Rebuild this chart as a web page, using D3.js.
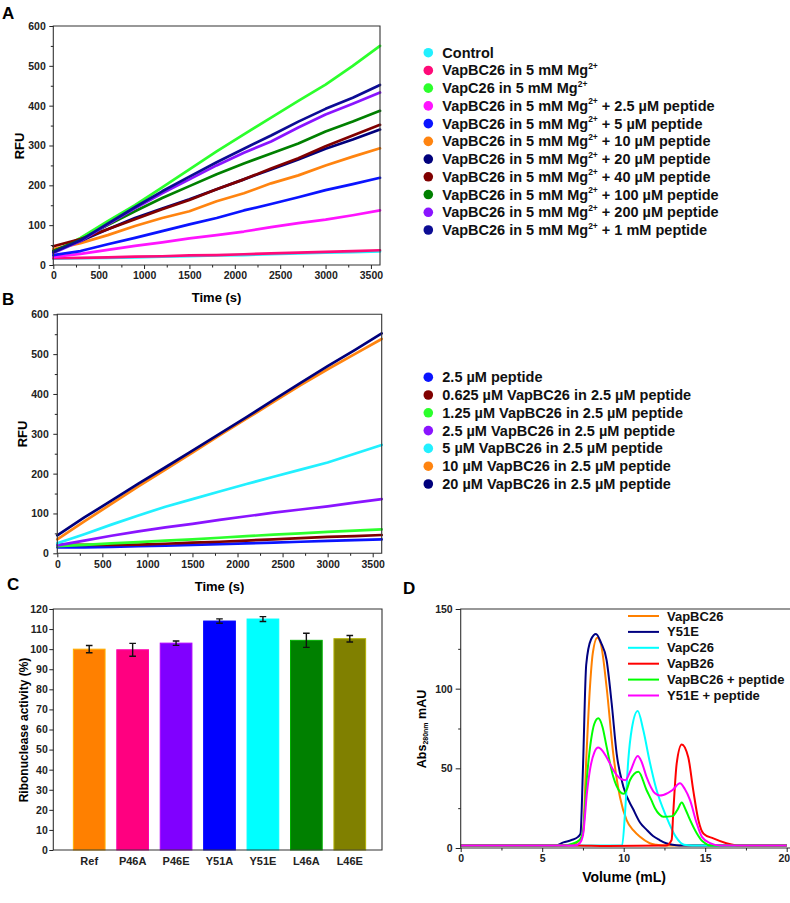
<!DOCTYPE html>
<html>
<head>
<meta charset="utf-8">
<script src="https://cdnjs.cloudflare.com/ajax/libs/d3/7.8.5/d3.min.js"></script>
<style>
body { margin: 0; background: #fff; }
svg { display: block; font-family: "Liberation Sans", Arial, sans-serif; font-weight: bold; }
</style>
</head>
<body>
<svg id="fig" width="790" height="903"></svg>
<script>
// sampling times of the kinetics traces (s)
const times = [0, 300, 600, 900, 1200, 1500, 1800, 2100, 2400, 2700, 3000, 3300, 3600];

// Panel A - RFU values at each time
const aControl = [16, 17, 18, 19, 21, 22, 24, 25, 27, 29, 31, 32, 34];
const aVapBC26 = [17, 18, 19, 21, 22, 24, 25, 27, 29, 31, 33, 35, 37];
const aVapC26 = [32, 68, 110, 150, 195, 240, 285, 328, 370, 412, 453, 500, 550];
const aPep2_5 = [20, 28, 38, 48, 57, 67, 75, 84, 95, 105, 114, 125, 137];
const aPep5 = [25, 35, 52, 68, 85, 102, 118, 137, 153, 170, 188, 203, 219];
const aPep10 = [40, 55, 75, 98, 118, 135, 160, 180, 205, 225, 250, 272, 293];
const aPep20 = [35, 60, 90, 118, 142, 165, 190, 215, 240, 265, 292, 315, 340];
const aPep40 = [47, 65, 90, 115, 140, 163, 190, 215, 242, 268, 298, 325, 352];
const aPep100 = [35, 63, 100, 135, 168, 198, 228, 255, 280, 305, 335, 360, 387];
const aPep200 = [30, 60, 102, 142, 180, 215, 250, 282, 310, 345, 378, 405, 433];
const aPep1mM = [32, 62, 104, 145, 185, 222, 258, 292, 325, 360, 392, 420, 452];

const aLabels = [
  "Control",
  "VapBC26 in 5 mM Mg{2+}",
  "VapC26 in 5 mM Mg{2+}",
  "VapBC26 in 5 mM Mg{2+} + 2.5 µM peptide",
  "VapBC26 in 5 mM Mg{2+} + 5 µM peptide",
  "VapBC26 in 5 mM Mg{2+} + 10 µM peptide",
  "VapBC26 in 5 mM Mg{2+} + 20 µM peptide",
  "VapBC26 in 5 mM Mg{2+} + 40 µM peptide",
  "VapBC26 in 5 mM Mg{2+} + 100 µM peptide",
  "VapBC26 in 5 mM Mg{2+} + 200 µM peptide",
  "VapBC26 in 5 mM Mg{2+} + 1 mM peptide"
];
const aColors = ["#22f0ff", "#ff0a78", "#2cff2c", "#ff14ff", "#0a14ff", "#ff8410",
                 "#00007c", "#800000", "#008000", "#8a14ff", "#0c0c94"];

// Panel B - RFU values at each time
const bPeptide = [15, 15, 16, 18, 19, 21, 23, 25, 27, 29, 31, 33, 35];
const bV0625 = [22, 21, 21, 22, 24, 27, 29, 32, 35, 38, 41, 43, 46];
const bV125 = [18, 21, 25, 28, 32, 35, 39, 43, 47, 50, 54, 57, 60];
const bV25 = [20, 32, 44, 55, 65, 74, 84, 93, 102, 110, 118, 127, 136];
const bV5 = [25, 48, 72, 95, 117, 136, 155, 174, 192, 210, 228, 250, 272];
const bV10 = [35, 80, 124, 168, 210, 253, 296, 338, 380, 422, 462, 500, 538];
const bV20 = [45, 90, 132, 175, 216, 258, 300, 342, 385, 428, 470, 510, 552];

const bLabels = [
  "2.5 µM peptide",
  "0.625 µM VapBC26 in 2.5 µM peptide",
  "1.25 µM VapBC26 in 2.5 µM peptide",
  "2.5 µM VapBC26 in 2.5 µM peptide",
  "5 µM VapBC26 in 2.5 µM peptide",
  "10 µM VapBC26 in 2.5 µM peptide",
  "20 µM VapBC26 in 2.5 µM peptide"
];
const bColors = ["#0a14ff", "#800000", "#2cff2c", "#8a14ff", "#22f0ff", "#ff8410", "#00007c"];

// Panel C - ribonuclease activity (%)
const cMutants = ["Ref", "P46A", "P46E", "Y51A", "Y51E", "L46A", "L46E"];
const cActivity = [100, 99.7, 103, 114, 115, 104.4, 105.2];
const cError = [1.8, 3.2, 1.1, 1.1, 1.2, 3.5, 1.6];
const cColors = ["#ff8000", "#ff0080", "#8000ff", "#0000ff", "#00ffff", "#008000", "#808000"];

// Panel D - size exclusion traces, [volume mL, mAU]
const dVapBC26 = [[0,1.5],[6,1.5],[6.8,2],[7.3,5],[7.5,9],[7.7,55],[7.93,101],[8.1,122],[8.38,132],[8.6,128],
  [8.95,101],[9.36,59],[9.77,32],[10.18,17.5],[10.6,11],[11,7],[11.6,3],[12,2],[12.5,1.5],[20,1.5]];
const dY51E = [[0,1.5],[5.8,1.5],[6.3,3.5],[6.8,5],[7.2,7],[7.35,9],[7.5,50],[7.7,115],[8,131],[8.3,134.3],
  [8.6,129],[8.95,118],[9.26,91],[9.57,59],[9.98,38.5],[10.6,24],[11,16],[11.4,11.5],[11.8,7.5],[12.2,5],
  [12.6,3],[13,2],[13.4,1.5],[20,1.5]];
const dVapC26 = [[0,1.5],[9.9,1.5],[10.1,25],[10.28,55],[10.5,75],[10.86,86],[11.2,74],[11.6,54],[12,37],
  [12.6,20],[13.2,7],[13.7,2],[14.2,1.5],[20,1.5]];
const dVapB26 = [[0,1.5],[7,1.5],[9,1.2],[12.6,1.5],[12.94,5],[13.04,22],[13.25,53],[13.56,65],[13.96,57],
  [14.27,36],[14.58,17.6],[14.9,9],[15.5,6],[16.3,3],[17.1,1.5],[20,1.5]];
const dVapBC26Pep = [[0,1.5],[6.3,1.5],[6.8,2.5],[7.3,5],[7.5,10],[7.75,45],[8,68],[8.2,78],[8.44,81.4],
  [8.7,76],[8.95,63.6],[9.36,44.7],[9.77,35.3],[9.98,34],[10.2,37],[10.39,42.7],[10.9,47.9],[11.4,36.4],
  [11.7,30],[11.92,25],[12.2,21],[12.43,19.6],[13,20],[13.3,24],[13.56,28.5],[13.8,24],[14.07,17.6],
  [14.48,9.2],[14.8,4.5],[15,3],[15.3,1.5],[20,1.5]];
const dY51EPep = [[0,1.5],[7,1.5],[7.3,3],[7.5,8],[7.75,35],[7.93,49],[8.2,60],[8.44,63],[8.7,61],[8.95,57],
  [9.36,49],[9.8,43.5],[10.1,42.5],[10.4,48],[10.86,57.7],[11.1,54],[11.4,44.7],[11.92,34.3],[12.2,33],
  [12.43,33.3],[13,36.4],[13.45,40.6],[13.75,37],[14.07,30],[14.48,15.5],[14.8,7],[15.3,3],[15.9,1.5],[20,1.5]];

const dLabels = ["VapBC26", "Y51E", "VapC26", "VapB26", "VapBC26 + peptide", "Y51E + peptide"];
const dColors = ["#ff8000", "#000080", "#00ffff", "#ff0000", "#00ff00", "#ff00ff"];

const svg = d3.select("#fig");

// text with {superscript} and [subscript] parts
function richText(sel, str, small, shift) {
  let pending = 0;
  str.split(/(\{[^}]*\}|\[[^\]]*\])/).forEach(part => {
    if (!part) return;
    if (part[0] === "{" || part[0] === "[") {
      const s = part[0] === "{" ? -shift : shift;
      sel.append("tspan").attr("font-size", small).attr("dy", s + pending).text(part.slice(1, -1));
      pending = -s;
    } else {
      sel.append("tspan").attr("dy", pending).text(part);
      pending = 0;
    }
  });
}

function styleAxis(a, size) {
  a.attr("font-family", null).attr("font-size", size || 10.5);
  a.select(".domain").remove();
  a.selectAll(".tick line").attr("stroke", "#222");
  a.selectAll(".tick text").attr("fill", "#222");
}

function frame(x0, x1, y0, y1, right) {
  const p = right
    ? `M${x0},${y0}H${x1}V${y1}H${x0}Z`
    : `M${x1 + 5},${y0}H${x0}V${y1}H${x1 + 5}`;
  svg.append("path").attr("d", p).attr("fill", "none").attr("stroke", "#333").attr("stroke-width", 1.1);
}

function panelLetter(t, x, y) {
  svg.append("text").attr("x", x).attr("y", y).attr("font-size", 17).text(t);
}

function yTitle(x, y, size, str) {
  const t = svg.append("text").attr("transform", `translate(${x},${y}) rotate(-90)`)
    .attr("text-anchor", "middle").attr("dominant-baseline", "central").attr("font-size", size);
  richText(t, str, 7, 3);
}

function xTitle(x, y, size, str) {
  svg.append("text").attr("x", x).attr("y", y).attr("text-anchor", "middle")
    .attr("dominant-baseline", "central").attr("font-size", size).text(str);
}

// kinetics panels A and B
function kinetics(box, series, colors, ypad) {
  const x = d3.scaleLinear().domain([0, 3600]).range([box.x0, box.x1]);
  const y = d3.scaleLinear().domain([0, 600]).range([box.y1, box.y0]);
  const line = d3.line().x((d, i) => x(times[i])).y(d => y(d));
  series.forEach((s, i) => {
    svg.append("path").attr("d", line(s)).attr("fill", "none")
      .attr("stroke", colors[i]).attr("stroke-width", 2.7)
      .attr("stroke-linejoin", "round").attr("stroke-linecap", "round");
  });
  frame(box.x0, box.x1, box.y0, box.y1, true);

  const gx = svg.append("g").attr("transform", `translate(0,${box.y1})`);
  gx.append("g").call(d3.axisBottom(x).tickValues(d3.range(250, 3600, 500)).tickSize(2.5).tickFormat(""))
    .call(styleAxis);
  gx.append("g").call(d3.axisBottom(x).tickValues(d3.range(0, 3600, 500)).tickSize(4).tickPadding(3)
    .tickFormat(d3.format("d"))).call(styleAxis);

  const gy = svg.append("g").attr("transform", `translate(${box.x0},0)`);
  gy.append("g").call(d3.axisLeft(y).tickValues(d3.range(50, 600, 100)).tickSize(2.5).tickFormat(""))
    .call(styleAxis);
  gy.append("g").call(d3.axisLeft(y).tickValues(d3.range(0, 601, 100)).tickSize(4).tickPadding(ypad))
    .call(styleAxis);
}

function dotLegend(labels, colors, x, y0, step) {
  labels.forEach((lab, i) => {
    const yy = y0 + i * step;
    svg.append("circle").attr("cx", x).attr("cy", yy).attr("r", 4.8).attr("fill", colors[i]);
    const t = svg.append("text").attr("x", x + 14).attr("y", yy)
      .attr("dominant-baseline", "central").attr("font-size", 14.5).attr("fill", "#111");
    richText(t, lab, 8.5, 4.5);
  });
}

// ---- Panel A
panelLetter("A", 2, 19);
kinetics({ x0: 53.3, x1: 380, y0: 26, y1: 265 },
  [aControl, aVapBC26, aVapC26, aPep2_5, aPep5, aPep10, aPep20, aPep40, aPep100, aPep200, aPep1mM],
  aColors, 3.5);
yTitle(19, 146, 13, "RFU");
xTitle(216.6, 297, 13, "Time (s)");
dotLegend(aLabels, aColors, 428.3, 52.7, 17.73);

// ---- Panel B
panelLetter("B", 2, 305);
kinetics({ x0: 57.3, x1: 381.7, y0: 314.3, y1: 553.3 },
  [bPeptide, bV0625, bV125, bV25, bV5, bV10, bV20], bColors, 4.5);
yTitle(21.7, 434, 13, "RFU");
xTitle(219.5, 586, 13, "Time (s)");
dotLegend(bLabels, bColors, 428.3, 377.2, 17.8);

// ---- Panel C
panelLetter("C", 7, 590);
{
  const x = d3.scaleBand().domain(cMutants).range([67.5, 371.5]).paddingInner(0.27).paddingOuter(0.135);
  const y = d3.scaleLinear().domain([0, 120]).range([850, 609]);
  cMutants.forEach((m, i) => {
    svg.append("rect").attr("x", x(m)).attr("y", y(cActivity[i]))
      .attr("width", x.bandwidth()).attr("height", y(0) - y(cActivity[i]))
      .attr("fill", cColors[i]).attr("stroke", d3.color(cColors[i]).brighter(0.9)).attr("stroke-width", 1);
    const cx = x(m) + x.bandwidth() / 2;
    const lo = y(cActivity[i] - cError[i]), hi = y(cActivity[i] + cError[i]);
    svg.append("path").attr("d", `M${cx},${lo}V${hi}M${cx - 3.3},${lo}H${cx + 3.3}M${cx - 3.3},${hi}H${cx + 3.3}`)
      .attr("stroke", "#111").attr("stroke-width", 1.4).attr("fill", "none");
  });
  frame(53.3, 382, 609, 850, true);
  svg.append("g").attr("transform", "translate(0,850)")
    .call(d3.axisBottom(x).tickSize(0).tickPadding(7)).call(a => styleAxis(a, 11));
  svg.append("g").attr("transform", "translate(53.3,0)")
    .call(d3.axisLeft(y).tickValues(d3.range(0, 121, 10)).tickSize(4).tickPadding(1.5)).call(styleAxis);
  yTitle(24, 730, 12, "Ribonuclease activity (%)");
}

// ---- Panel D
panelLetter("D", 403, 594);
{
  const x = d3.scaleLinear().domain([0, 20]).range([460.7, 786.7]);
  const y = d3.scaleLinear().domain([0, 150]).range([848, 609]);
  const line = d3.line().x(d => x(d[0])).y(d => y(d[1])).curve(d3.curveMonotoneX);
  [dVapBC26, dY51E, dVapC26, dVapB26, dVapBC26Pep, dY51EPep].forEach((s, i) => {
    svg.append("path").attr("d", line(s)).attr("fill", "none")
      .attr("stroke", dColors[i]).attr("stroke-width", 2).attr("stroke-linejoin", "round");
  });
  frame(460.7, 786.7, 609, 848, false);

  const gx = svg.append("g").attr("transform", "translate(0,848)");
  gx.append("g").call(d3.axisBottom(x).tickValues([2.5, 7.5, 12.5, 17.5]).tickSize(2.5).tickFormat(""))
    .call(styleAxis);
  gx.append("g").call(d3.axisBottom(x).tickValues([0, 5, 10, 15, 20]).tickSize(4).tickPadding(3))
    .call(styleAxis);
  // keep the last label inside the page edge
  gx.selectAll(".tick text").filter(d => d === 20).attr("text-anchor", "end").attr("x", 3);
  const gy = svg.append("g").attr("transform", "translate(460.7,0)");
  gy.append("g").call(d3.axisLeft(y).tickValues([25, 75, 125]).tickSize(2.5).tickFormat(""))
    .call(styleAxis);
  gy.append("g").call(d3.axisLeft(y).tickValues([0, 50, 100, 150]).tickSize(5).tickPadding(3))
    .call(styleAxis);

  yTitle(422, 729, 12.5, "Abs[280nm] mAU");
  xTitle(624, 877, 14, "Volume (mL)");

  dLabels.forEach((lab, i) => {
    const yy = 616 + i * 15.9;
    svg.append("line").attr("x1", 628).attr("x2", 659).attr("y1", yy).attr("y2", yy)
      .attr("stroke", dColors[i]).attr("stroke-width", 2);
    svg.append("text").attr("x", 667).attr("y", yy).attr("dominant-baseline", "central")
      .attr("font-size", 13).attr("fill", "#111").text(lab);
  });
}
</script>
</body>
</html>
